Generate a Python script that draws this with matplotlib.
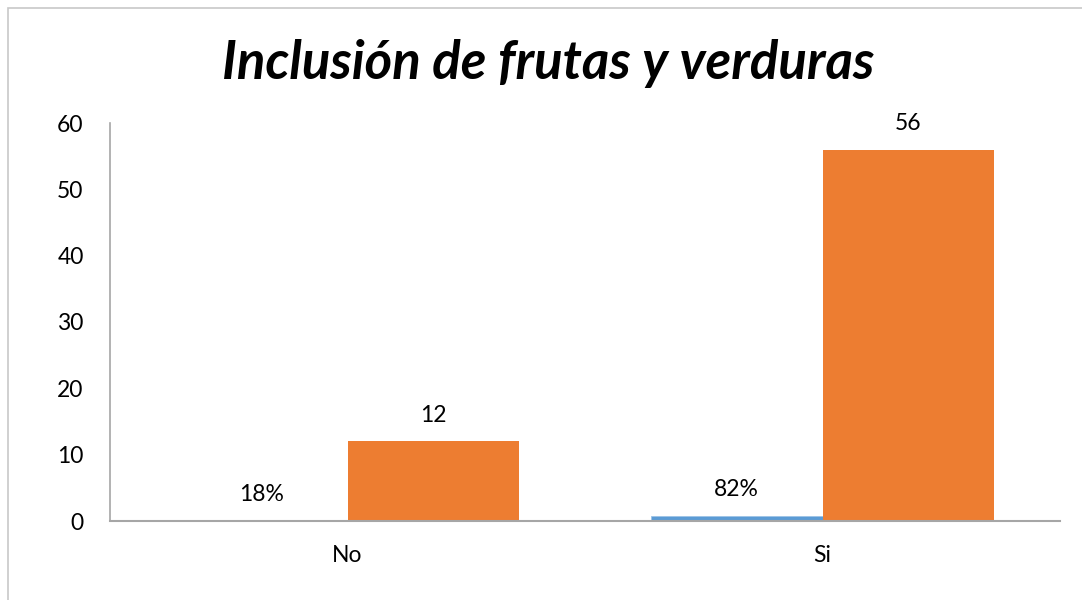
import matplotlib
matplotlib.use("Agg")
import matplotlib.pyplot as plt
from matplotlib.patches import Rectangle

categories = ["No", "Si"]
porcentaje = [0.18, 0.82]
porcentaje_labels = ["18%", "82%"]
cantidad = [12, 56]
yticks = [0, 10, 20, 30, 40, 50, 60]
title = "Inclusión de frutas y verduras"

plt.rcParams['font.family'] = ['Lato', 'DejaVu Sans']

fig = plt.figure(figsize=(10.82, 6.0), dpi=100)
ax = fig.add_axes([110/1082, 1-521/600, 950/1082, (521-123)/600])

x = list(range(len(categories)))
w = 0.362
blue = "#5b9bd5"
orange = "#ed7d31"
b1 = ax.bar([i - w/2 for i in x], porcentaje, width=w, color=blue,
            edgecolor="#9dc3e6", linewidth=0.6)
b2 = ax.bar([i + w/2 for i in x], cantidad, width=w, color=orange)

fs = 16.5
for rect, lab in zip(b1, porcentaje_labels):
    ax.annotate(lab, (rect.get_x() + rect.get_width()/2, rect.get_height()),
                xytext=(0, 11), textcoords="offset points", ha="center", va="bottom", fontsize=fs)
for rect, v in zip(b2, cantidad):
    ax.annotate(str(v), (rect.get_x() + rect.get_width()/2, rect.get_height()),
                xytext=(0, 11), textcoords="offset points", ha="center", va="bottom", fontsize=fs)

ax.set_xlim(-0.5, 1.5)
ax.set_ylim(0, 60)
ax.set_yticks(yticks)
ax.set_xticks(x)
ax.set_xticklabels(categories)
ax.tick_params(axis="both", length=0, labelsize=fs)
ax.tick_params(axis="y", pad=19)
ax.tick_params(axis="x", pad=17)
for s in ["top", "right"]:
    ax.spines[s].set_visible(False)
ax.spines["left"].set_color("#a6a6a6")
ax.spines["bottom"].set_color("#a6a6a6")
ax.spines["left"].set_linewidth(1.2)
ax.spines["bottom"].set_linewidth(1.5)

fig.text(548/1082, 1-63/600, title, ha="center", va="center",
         fontsize=38, fontweight="bold", fontstyle="italic")

fig.patches.append(Rectangle((8/1082, -0.1), 1.2, 1.1 - 8/600, transform=fig.transFigure,
                             fill=False, edgecolor="#c8c8c8", linewidth=1.2))

fig.savefig("out.png", dpi=100)
